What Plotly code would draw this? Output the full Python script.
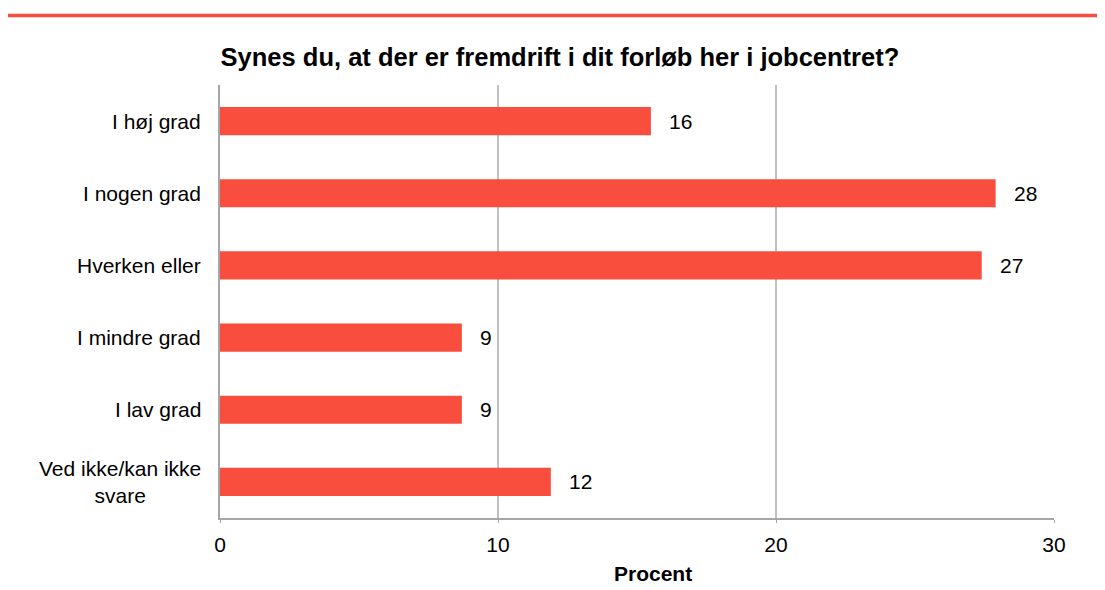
import plotly.graph_objects as go

categories = ["I høj grad", "I nogen grad", "Hverken eller", "I mindre grad", "I lav grad",
              "Ved ikke/kan ikke<br>svare"]
values = [15.5, 27.9, 27.4, 8.7, 8.7, 11.9]
labels = ["16", "28", "27", "9", "9", "12"]
x_ticks = [0, 10, 20, 30]

bar_color = "#F94E3D"
font_family = "Liberation Sans, Arial, sans-serif"
fs = 21

fig = go.Figure()
fig.add_trace(go.Bar(
    x=values, y=categories, orientation="h",
    marker=dict(color=bar_color, line=dict(width=0)),
    width=0.39, hoverinfo="skip",
))

annotations = []
for c, v, t in zip(categories, values, labels):
    annotations.append(dict(x=v, y=c, xref="x", yref="y", text=t, showarrow=False,
                            xanchor="left", yanchor="middle", xshift=16,
                            font=dict(size=fs, color="#000000", family=font_family)))
    annotations.append(dict(x=0, y=c, xref="paper", yref="y", text=c, showarrow=False,
                            xanchor="right", yanchor="middle", xshift=-17, align="center",
                            font=dict(size=fs, color="#000000", family=font_family)))
annotations.append(dict(x=0.519, y=0, xref="paper", yref="paper", text="<b>Procent</b>",
                        showarrow=False, xanchor="center", yanchor="middle", yshift=-55,
                        font=dict(size=fs, color="#000000", family=font_family)))

fig.update_layout(
    width=1105, height=590,
    margin=dict(l=212, r=59, t=77, b=80),
    paper_bgcolor="white", plot_bgcolor="white",
    showlegend=False,
    title=dict(text="<b>Synes du, at der er fremdrift i dit forløb her i jobcentret?</b>",
               x=0.4995, xanchor="center", y=0.917, yanchor="middle",
               font=dict(size=25.5, color="#000000", family=font_family)),
    font=dict(family=font_family, size=fs, color="#000000"),
    annotations=annotations,
    xaxis=dict(range=[0, 30], tickvals=x_ticks, showgrid=True, gridcolor="#C0C0C0", gridwidth=1.5,
               zeroline=False, showline=True, linecolor="#A6A6A6", linewidth=2,
               ticks="outside", ticklen=3, tickcolor="#A6A6A6", ticklabelstandoff=4,
               tickfont=dict(size=fs, family=font_family, color="#000000")),
    yaxis=dict(categoryorder="array", categoryarray=categories[::-1],
               showticklabels=False, showgrid=False, zeroline=False,
               showline=True, linecolor="#A6A6A6", linewidth=2, range=[-0.5, 5.5]),
    shapes=[dict(type="line", xref="paper", yref="paper",
                 x0=(5 - 220) / 834, x1=(1105 - 220) / 834,
                 y0=1 + (85 - 15.5) / 433, y1=1 + (85 - 15.5) / 433,
                 line=dict(color=bar_color, width=3.5))],
)

fig.write_html("out.html")
